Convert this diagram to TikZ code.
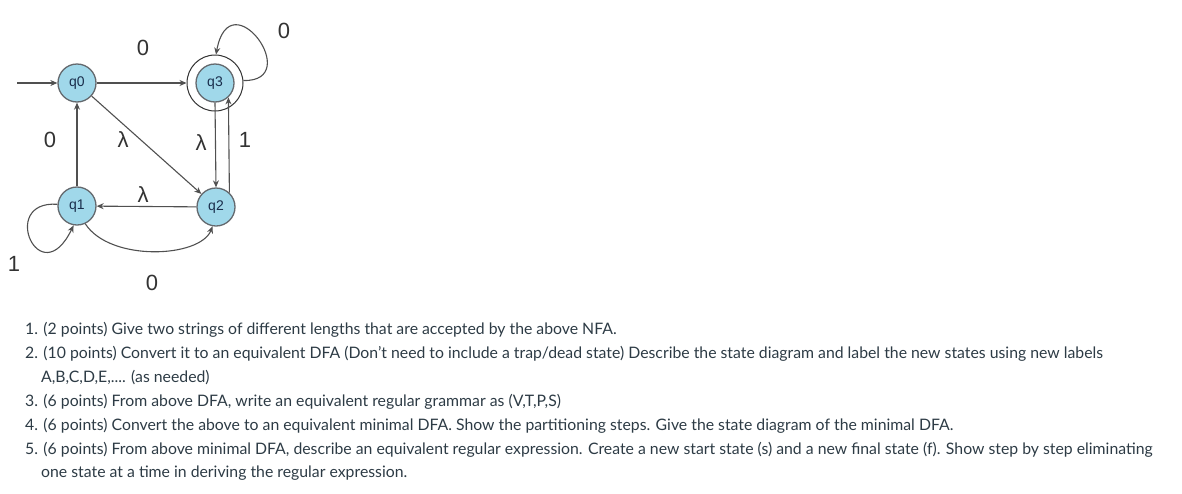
\documentclass[tikz,border=0pt]{standalone}
\usepackage{fontspec}
\setmainfont{Lato}
\newfontfamily\labelfont{Liberation Sans}
\usetikzlibrary{arrows.meta,calc}

\definecolor{statefill}{RGB}{160,216,234}
\definecolor{stateline}{RGB}{100,105,110}
\definecolor{edgegray}{RGB}{80,80,80}
\definecolor{textgray}{RGB}{45,59,69}
\definecolor{qtext}{RGB}{25,45,75}

\begin{document}
\begin{tikzpicture}[
    x=1pt, y=-1pt,
    >={Stealth[length=7pt,width=6pt]},
    state node/.style={circle,fill=statefill,draw=stateline,line width=1.3pt,minimum size=38pt,inner sep=0pt,font=\labelfont\fontsize{14}{14}\selectfont,text=qtext},
    final ring/.style={circle,draw=black!80,line width=1pt,minimum size=56pt,inner sep=0pt},
    edge line/.style={->,edgegray,line width=1.1pt},
    edge label/.style={font=\labelfont\fontsize{22}{22}\selectfont,text=black!80},
    item text/.style={anchor=base west,inner sep=0pt,font=\fontsize{15.8}{18}\selectfont,text=textgray}
]
\useasboundingbox (0,0) rectangle (1182,493);

% Estados
\coordinate (start) at (17,83);
\node[state node] (q0) at (77,83) {q0};
\node[state node] (q3) at (215,83) {q3};
\node[final ring] (q3o) at (q3) {};
\node[state node] (q1) at (77,206) {q1};
\node[state node] (q2) at (216,207) {q2};

% Transicoes
\draw[edge line] (start) -- (q0);
\draw[edge line] (q0) -- (q3o);
\draw[edge line] (q0) -- (q2);
\draw[edge line] (q3.south) -- (q2.north);
\draw[edge line] (q2.47) -- (q3.-47);
\draw[edge line] (q2) -- (q1);
\draw[edge line] (q1) -- (q0);
\draw[edge line] (q1.-65) .. controls (110,262) and (200,258) .. (q2.-100);

% Lacos
\draw[edge line] (q1.175) .. controls (-2,200) and (40,295) .. (q1.-100);
\draw[edge line] (q3o.5) .. controls (305,82) and (230,-22) .. (q3o.88);

% Rotulos das transicoes
\node[edge label] (l03) at (143,48) {0};
\node[edge label] (l33) at (284,31) {0};
\node[edge label] (l10) at (50,140) {0};
\node[edge label] (l02) at (123,140) {λ};
\node[edge label] (l32) at (201,143) {λ};
\node[edge label] (l23) at (245,140) {1};
\node[edge label] (l21) at (143,195) {λ};
\node[edge label] (l11) at (14,264) {1};
\node[edge label] (l12) at (152,283) {0};

% Enunciado
\node[item text] (t1) at (25,334) {1. (2 points) Give two strings of different lengths that are accepted by the above NFA.};
\node[item text] (t2) at (25,358) {2. (10 points) Convert it to an equivalent DFA (Don’t need to include a trap/dead state) Describe the state diagram and label the new states using new labels};
\node[item text] (t2b) at (41,382) {A,B,C,D,E,.... (as needed)};
\node[item text] (t3) at (25,406) {3. (6 points) From above DFA, write an equivalent regular grammar as (V,T,P,S)};
\node[item text] (t4) at (25,430) {4. (6 points) Convert the above to an equivalent minimal DFA. Show the partitioning steps. Give the state diagram of the minimal DFA.};
\node[item text] (t5) at (25,454) {5. (6 points) From above minimal DFA, describe an equivalent regular expression. Create a new start state (s) and a new final state (f). Show step by step eliminating};
\node[item text] (t5b) at (41,477) {one state at a time in deriving the regular expression.};

\end{tikzpicture}
\end{document}
